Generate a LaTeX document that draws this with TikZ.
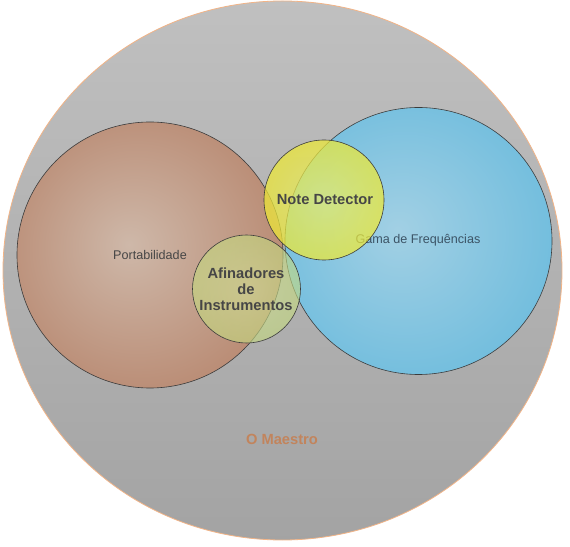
\documentclass[tikz,border=0pt]{standalone}
\usepackage{fontspec}
\setmainfont{Liberation Sans}
\usetikzlibrary{shapes.geometric}

% palette
\definecolor{greytop}{HTML}{CECECE}
\definecolor{greybot}{HTML}{959595}
\definecolor{rimorange}{HTML}{F2B487}
\definecolor{brownin}{HTML}{CEB8A9}
\definecolor{brownmid}{HTML}{B88870}
\definecolor{brownout}{HTML}{A66549}
\definecolor{bluein}{HTML}{A2D0E4}
\definecolor{bluemid}{HTML}{6EBCDD}
\definecolor{blueout}{HTML}{3FA8D6}
\definecolor{yellowin}{HTML}{EAEE6A}
\definecolor{yellowout}{HTML}{F2E400}
\definecolor{greenin}{HTML}{D2E296}
\definecolor{greenout}{HTML}{B6CF6A}
\definecolor{labelgrey}{HTML}{464646}
\definecolor{labelslate}{HTML}{3C5466}
\definecolor{maestro}{HTML}{C2845C}
\definecolor{edgegrey}{HTML}{3C3C3C}

% soft gradients reaching the rim of each circle
\pgfdeclareverticalshading{greyfall}{100bp}{color(0bp)=(greybot); color(100bp)=(greytop)}
\pgfdeclareradialshading{brownglow}{\pgfpoint{-4bp}{2bp}}{color(0bp)=(brownin); color(30bp)=(brownmid); color(50bp)=(brownout)}
\pgfdeclareradialshading{blueglow}{\pgfpoint{-4bp}{2bp}}{color(0bp)=(bluein); color(30bp)=(bluemid); color(50bp)=(blueout)}
\pgfdeclareradialshading{yellowglow}{\pgfpointorigin}{color(0bp)=(yellowin); color(50bp)=(yellowout)}
\pgfdeclareradialshading{greenglow}{\pgfpointorigin}{color(0bp)=(greenin); color(50bp)=(greenout)}

\tikzset{
  disc/.style={circle, inner sep=0pt, draw=edgegrey, line width=0.6pt},
  plainlabel/.style={font=\fontsize{12.6}{15}\selectfont, text=labelgrey, align=center},
  boldlabel/.style={font=\bfseries\fontsize{14.7}{16}\selectfont, text=labelgrey, align=center},
}

\begin{document}
\begin{tikzpicture}[x=1pt, y=1pt]
  \useasboundingbox (0,0) rectangle (570,546);
  \fill[white] (0,0) rectangle (570,546);

  % enclosing set
  \node[ellipse, inner sep=0pt, minimum width=559pt, minimum height=539pt,
        shade, shading=greyfall, draw=rimorange, line width=0.8pt] (maestro) at (282.5,275.5) {};

  % the two large sets
  \node[disc, minimum size=266pt, shade, shading=brownglow] (porta) at (150,291) {};
  \node[disc, minimum size=267pt, shade, shading=blueglow] (gama) at (418.5,305) {};

  \node[plainlabel] (portalabel) at (150,291) {Portabilidade};
  \node[plainlabel, text=labelslate] (gamalabel) at (418,306) {Gama de Frequências};

  % the two small sets, translucent over the large ones
  \node[disc, minimum size=120pt, shade, shading=yellowglow, fill opacity=0.72] (note) at (324,346) {};
  \node[disc, minimum size=108pt, shade, shading=greenglow, fill opacity=0.62] (afin) at (246.5,257) {};

  \node[boldlabel] (notelabel) at (325,346) {Note Detector};
  \node[boldlabel] (afinlabel) at (246,257) {Afinadores\\de\\Instrumentos};

  \node[boldlabel, text=maestro] (maestrolabel) at (282,107) {O Maestro};
\end{tikzpicture}
\end{document}
